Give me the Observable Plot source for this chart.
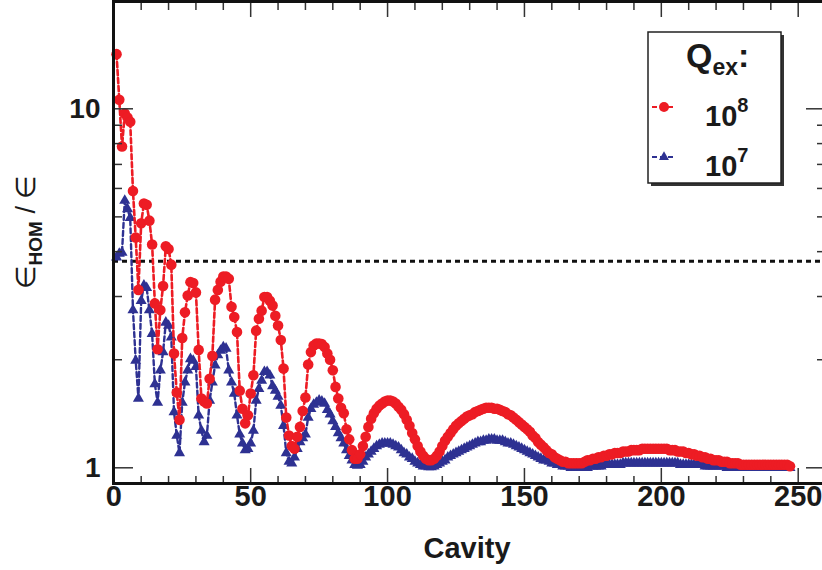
<!DOCTYPE html>
<html><head><meta charset="utf-8">
<script src="https://cdn.jsdelivr.net/npm/d3@7"></script>
<script src="https://cdn.jsdelivr.net/npm/@observablehq/plot@0.6"></script>
<style>
body{margin:0;background:#fff;}
#wrap{position:relative;width:822px;height:570px;overflow:hidden;font-family:"Liberation Sans",Arial,Helvetica,sans-serif;}
#wrap > svg{position:absolute;left:0;top:0;max-width:none !important;}
</style></head><body><div id="wrap"></div>
<script>
// Q_ex = 1e8 (red circles)
const red = [
14.2,10.6,7.85,9.7,9.45,9.2,5.9,4.38,3.13,4.8,
5.45,5.4,4.88,4.19,2.87,2.14,2.75,3.21,4.14,4.07,
3.68,2.08,1.62,1.36,2.30,2.71,3.02,3.29,3.27,3.08,
2.13,1.56,1.53,1.51,1.77,2.05,2.94,3.13,3.30,3.41,
3.41,3.36,2.81,2.63,2.39,1.64,1.46,1.33,1.40,1.61,
1.81,2.41,2.60,2.74,2.99,2.99,2.92,2.83,2.65,2.49,
2.27,1.89,1.38,1.23,1.15,1.13,1.22,1.30,1.44,1.57,
1.94,2.10,2.19,2.22,2.22,2.21,2.17,2.08,2.00,1.87,
1.68,1.56,1.47,1.42,1.28,1.20,1.12,1.06,1.06,1.09,
1.15,1.22,1.30,1.37,1.42,1.46,1.49,1.51,1.53,1.54,
1.54,1.53,1.51,1.48,1.45,1.41,1.36,1.31,1.25,1.20,
1.15,1.11,1.08,1.06,1.05,1.05,1.06,1.08,1.11,1.15,
1.19,1.22,1.25,1.28,1.31,1.33,1.35,1.37,1.39,1.40,
1.41,1.43,1.44,1.45,1.46,1.47,1.47,1.47,1.46,1.46,
1.45,1.44,1.43,1.41,1.40,1.38,1.36,1.34,1.32,1.30,
1.28,1.26,1.23,1.21,1.18,1.16,1.14,1.12,1.10,1.09,
1.07,1.06,1.05,1.04,1.04,1.03,1.03,1.03,1.03,1.03,
1.03,1.04,1.05,1.05,1.06,1.06,1.07,1.07,1.08,1.08,
1.09,1.09,1.10,1.10,1.10,1.11,1.11,1.11,1.12,1.12,
1.12,1.12,1.13,1.13,1.13,1.13,1.13,1.13,1.13,1.13,
1.13,1.13,1.12,1.12,1.12,1.11,1.11,1.11,1.10,1.10,
1.09,1.09,1.08,1.08,1.07,1.07,1.06,1.06,1.05,1.05,
1.05,1.04,1.04,1.04,1.03,1.03,1.03,1.03,1.02,1.02,
1.02,1.02,1.02,1.02,1.02,1.02,1.02,1.02,1.02,1.02,
1.02,1.02,1.02,1.02,1.02,1.02,1.01
];
// Q_ex = 1e7 (blue triangles)
const blue = [
3.86,3.95,3.98,5.55,5.26,4.97,2.75,1.99,1.56,2.92,
3.22,3.17,2.75,2.36,1.71,1.52,1.87,2.10,2.54,2.49,
2.31,1.43,1.23,1.10,1.52,1.73,1.87,2.01,1.99,1.91,
1.40,1.27,1.18,1.23,1.54,1.73,1.93,2.06,2.12,2.17,
2.15,1.87,1.73,1.61,1.40,1.24,1.17,1.12,1.13,1.17,
1.27,1.54,1.66,1.75,1.85,1.85,1.81,1.69,1.64,1.58,
1.49,1.31,1.10,1.04,1.03,1.07,1.13,1.18,1.21,1.24,
1.38,1.46,1.50,1.52,1.54,1.53,1.51,1.45,1.41,1.35,
1.30,1.25,1.21,1.17,1.12,1.08,1.05,1.02,1.015,1.02,
1.04,1.07,1.09,1.11,1.13,1.15,1.16,1.17,1.17,1.17,
1.17,1.16,1.15,1.14,1.12,1.10,1.09,1.07,1.06,1.04,
1.03,1.02,1.01,1.01,1.005,1.005,1.01,1.02,1.03,1.04,
1.05,1.07,1.08,1.09,1.10,1.11,1.12,1.13,1.14,1.15,
1.16,1.17,1.18,1.18,1.19,1.19,1.20,1.20,1.20,1.19,
1.19,1.19,1.18,1.17,1.17,1.16,1.15,1.14,1.13,1.12,
1.11,1.10,1.09,1.08,1.07,1.06,1.05,1.05,1.04,1.03,
1.03,1.02,1.02,1.01,1.01,1.01,1.00,1.00,1.00,1.00,
1.00,1.00,1.00,1.01,1.01,1.01,1.01,1.01,1.02,1.02,
1.02,1.02,1.02,1.02,1.02,1.03,1.03,1.03,1.03,1.03,
1.03,1.03,1.03,1.03,1.03,1.03,1.03,1.03,1.03,1.03,
1.03,1.03,1.03,1.03,1.03,1.03,1.02,1.02,1.02,1.02,
1.02,1.02,1.02,1.02,1.02,1.01,1.01,1.01,1.01,1.01,
1.01,1.01,1.01,1.00,1.00,1.00,1.00,1.00,1.00,1.00,
1.00,1.00,1.00,1.00,1.00,1.00,1.00,1.00,1.00,1.00,
1.00,1.00,1.00,1.00,1.00,1.00,1.00
];
const threshold = 3.76;
const xMajor = [0, 50, 100, 150, 200, 250];
const xMinor = [10,20,30,40,60,70,80,90,110,120,130,140,160,170,180,190,210,220,230,240];
const yMajor = [1, 10];
const yMinor = [2,3,4,5,6,7,8,9];
const seriesLabels = ["8", "7"]; // exponents of Q_ex

const RED = "#ed1c24", BLUE = "#2e3192", TICK = "#333";
const redData = red.map((v, i) => ({cavity: i + 1, value: v}));
const blueData = blue.map((v, i) => ({cavity: i + 1, value: v}));

const chart = Plot.plot({
  width: 828, height: 570,
  marginLeft: 113, marginRight: 3, marginTop: 1, marginBottom: 87,
  style: {fontFamily: "'Liberation Sans', Arial, sans-serif", color: "#1a1a1a", background: "white", overflow: "visible", maxWidth: "none"},
  x: {domain: [0, 250], range: [113.3, 797.7]},
  y: {type: "log", domain: [1, 10], range: [467.3, 108.3]},
  marks: [
    Plot.ruleY([threshold], {stroke: "#111", strokeWidth: 3, strokeDasharray: "5,4"}),
    Plot.line(blueData, {x: "cavity", y: "value", stroke: BLUE, strokeWidth: 2.4, strokeDasharray: "5,3"}),
    Plot.dot(blueData, {x: "cavity", y: "value", symbol: "triangle", r: 4.1, fill: BLUE, stroke: "none"}),
    Plot.line(redData, {x: "cavity", y: "value", stroke: RED, strokeWidth: 2.6, strokeDasharray: "5,3"}),
    Plot.dot(redData, {x: "cavity", y: "value", r: 5.3, fill: RED, stroke: "none"}),
    // inward ticks
    Plot.axisX(xMajor, {anchor: "bottom", tickSize: -15, fill: "none", stroke: TICK, strokeWidth: 1.5, label: null}),
    Plot.axisX(xMinor, {anchor: "bottom", tickSize: -7, fill: "none", stroke: TICK, strokeWidth: 1.5, label: null}),
    Plot.axisX(xMajor, {anchor: "top", tickSize: -15, fill: "none", stroke: TICK, strokeWidth: 1.5, label: null}),
    Plot.axisX(xMinor, {anchor: "top", tickSize: -8, fill: "none", stroke: TICK, strokeWidth: 1.5, label: null}),
    Plot.axisY(yMajor, {anchor: "left", tickSize: -20, fill: "none", stroke: TICK, strokeWidth: 1.5, label: null}),
    Plot.axisY(yMinor, {anchor: "left", tickSize: -9, fill: "none", stroke: TICK, strokeWidth: 1.5, label: null}),
    Plot.axisY(yMajor, {anchor: "right", tickSize: -20, fill: "none", stroke: TICK, strokeWidth: 1.5, label: null}),
    Plot.axisY(yMinor, {anchor: "right", tickSize: -9, fill: "none", stroke: TICK, strokeWidth: 1.5, label: null}),
    // labels
    Plot.axisX(xMajor, {anchor: "bottom", tickSize: 0, tickPadding: 2, fontSize: 29, fontWeight: "bold", fill: "#1a1a1a", label: null}),
    Plot.axisY(yMajor, {anchor: "left", tickSize: 0, tickPadding: 13, fontSize: 28, fontWeight: "bold", fill: "#1a1a1a", label: null, tickFormat: d => String(d)}),
    Plot.frame({stroke: "#111", strokeWidth: 3})
  ]
});
const wrap = document.getElementById("wrap");
wrap.appendChild(chart);

// overlay: axis titles and legend
const ov = d3.select(wrap).append("svg").attr("width", 822).attr("height", 570)
  .style("pointer-events", "none").attr("font-family", "'Liberation Sans', Arial, sans-serif").attr("fill", "#1a1a1a");

const yl = ov.append("text").attr("transform", "translate(35,232) rotate(-90)").attr("text-anchor", "middle").attr("font-size", 27);
yl.append("tspan").text("∈");
yl.append("tspan").attr("font-size", 19).attr("font-weight", "bold").attr("dy", 7).text("HOM");
yl.append("tspan").attr("dy", -7).text(" / ∈");

ov.append("text").attr("x", 467).attr("y", 558).attr("text-anchor", "middle")
  .attr("font-size", 29).attr("font-weight", "bold").text("Cavity");

// legend box
ov.append("rect").attr("x", 651).attr("y", 35).attr("width", 133).attr("height", 151).attr("fill", "#333");
ov.append("rect").attr("x", 648).attr("y", 32).attr("width", 133).attr("height", 151)
  .attr("fill", "white").attr("stroke", "#222").attr("stroke-width", 1.5);
const qt = ov.append("text").attr("x", 686).attr("y", 67).attr("font-size", 34).attr("font-weight", "bold");
qt.append("tspan").text("Q");
qt.append("tspan").attr("font-size", 23).attr("dy", 8).text("ex");
qt.append("tspan").attr("dy", -8).text(":");

const rows = [{c: RED, sym: "circle", y: 107}, {c: BLUE, sym: "triangle", y: 157}];
rows.forEach((r, i) => {
  ov.append("line").attr("x1", 652).attr("x2", 676).attr("y1", r.y).attr("y2", r.y)
    .attr("stroke", r.c).attr("stroke-width", 2).attr("stroke-dasharray", "5,3");
  if (r.sym === "circle") ov.append("circle").attr("cx", 664).attr("cy", r.y).attr("r", 5).attr("fill", r.c);
  else ov.append("path").attr("d", d3.symbol(d3.symbolTriangle, Math.PI * 3.7 * 3.7)()).attr("transform", `translate(664,${r.y})`).attr("fill", r.c);
  const t = ov.append("text").attr("x", 705).attr("y", r.y + 19).attr("font-size", 29).attr("font-weight", "bold");
  t.append("tspan").text("10");
  t.append("tspan").attr("font-size", 20).attr("dy", -14).text(seriesLabels[i]);
});
</script></body></html>
